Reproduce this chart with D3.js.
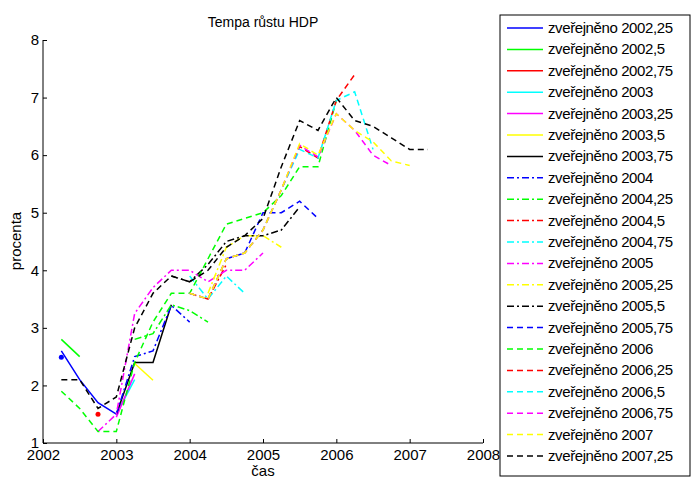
<!DOCTYPE html>
<html>
<head>
<meta charset="utf-8">
<script src="https://cdn.jsdelivr.net/npm/d3@7"></script>
<style>
  body { margin: 0; background: #fff; }
  text { font-family: "Liberation Sans", Arial, sans-serif; }
</style>
</head>
<body>
<svg id="chart" width="692" height="480"></svg>
<script>
// series: label, colour, dash style, first quarter, quarterly values
const labels = ["2002,25","2002,5","2002,75","2003","2003,25","2003,5","2003,75",
  "2004","2004,25","2004,5","2004,75","2005","2005,25","2005,5","2005,75",
  "2006","2006,25","2006,5","2006,75","2007","2007,25"];
const colors = ["#0000ff","#00ff00","#ff0000","#00ffff","#ff00ff","#ffff00","#000000"];
const starts = [2002.25,2002.25,2002.75,2003,2003,2003.25,2003,
  2003,2003.25,2004,2004,2002.75,2004.25,2003.75,2004.5,
  2002.25,2004,2004,2004,2004,2002.25];
const values = [
  [2.6,2.1,1.7,1.5],
  [2.8,2.5],
  [1.5],
  [1.5,2.1],
  [1.45,2.2],
  [2.38,2.09],
  [1.5,2.4,2.4,3.4],
  [1.5,2.5,2.6,3.39,3.1],
  [2.8,2.9,3.4,3.3,3.1],
  [3.6,3.5,4.1],
  [3.9,3.5,3.9,3.6],
  [1.2,1.5,3.25,3.7,4.0,4.0,3.8,4.0,4.0,4.3],
  [3.6,4.4,4.6,4.6,4.4],
  [3.9,3.8,4.1,4.5,4.6,4.6,4.7,5.1],
  [4.2,4.3,5.0,5.0,5.2,4.9],
  [1.9,1.6,1.2,1.2,2.4,3.1,3.6,3.6,4.2,4.8,4.9,5.0,5.3,5.8,5.8,6.95],
  [3.6,3.5,4.2,4.3,4.7,5.4,6.15,5.95,6.95,7.4],
  [3.6,3.5,4.2,4.3,4.7,5.4,6.1,5.95,6.95,7.1,6.1],
  [3.6,3.5,4.2,4.3,4.7,5.4,6.17,5.97,6.72,6.43,6.0,5.82],
  [3.6,3.5,4.2,4.3,4.7,5.4,6.2,6.0,6.72,6.43,6.23,5.9,5.82],
  [2.1,2.1,1.6,1.8,3.0,3.6,3.9,3.8,4.0,4.4,4.6,4.9,5.8,6.6,6.43,7.0,6.6,6.5,6.3,6.1,6.1]
];
const xTicks = [2002,2003,2004,2005,2006,2007,2008];
const yTicks = [1,2,3,4,5,6,7,8];

const dashes = i => i < 7 ? null : i < 14 ? "7,3,2,3" : "6,4";

const svg = d3.select("#chart");
const x = d3.scaleLinear().domain([2002, 2008]).range([43, 483]);
const y = d3.scaleLinear().domain([1, 8]).range([443, 40]);

svg.append("g").attr("transform", "translate(0,443)")
  .call(d3.axisBottom(x).tickValues(xTicks).tickFormat(d3.format("d")).tickSize(-4).tickPadding(6))
  .call(g => g.select(".domain").remove());
svg.append("g").attr("transform", "translate(43,0)")
  .call(d3.axisLeft(y).tickValues(yTicks).tickFormat(d3.format("d")).tickSize(-4).tickPadding(4))
  .call(g => g.select(".domain").remove());
svg.selectAll(".tick text").attr("font-size", 15).attr("fill", "#000");
svg.selectAll(".tick line").attr("stroke", "#000");
svg.append("path").attr("d", "M43,40V443H483").attr("fill", "none").attr("stroke", "#000");

svg.append("text").attr("x", 263).attr("y", 27).attr("text-anchor", "middle")
  .attr("font-size", 14).text("Tempa růstu HDP");
svg.append("text").attr("transform", "translate(21,241) rotate(-90)")
  .attr("text-anchor", "middle").attr("font-size", 15).text("procenta");
svg.append("text").attr("x", 263).attr("y", 476).attr("text-anchor", "middle")
  .attr("font-size", 15).text("čas");

const line = d3.line().x(d => x(d[0])).y(d => y(d[1]));
const plot = svg.append("g");
values.forEach((vals, i) => {
  const pts = vals.map((v, k) => [starts[i] + k * 0.25, v]);
  if (pts.length === 1) {
    plot.append("circle").attr("cx", x(pts[0][0])).attr("cy", y(pts[0][1]))
      .attr("r", 2.5).attr("fill", colors[i % 7]);
    return;
  }
  plot.append("path").attr("d", line(pts)).attr("fill", "none")
    .attr("stroke", colors[i % 7]).attr("stroke-width", 1.5)
    .attr("stroke-dasharray", dashes(i));
});
// dot marker of the first release
plot.append("circle").attr("cx", x(2002.25)).attr("cy", y(2.49)).attr("r", 2.5).attr("fill", colors[0]);

const leg = svg.append("g");
leg.append("rect").attr("x", 500).attr("y", 15).attr("width", 190).attr("height", 461)
  .attr("fill", "#fff").attr("stroke", "#000");
labels.forEach((l, i) => {
  const yy = 28 + i * 21.4;
  leg.append("line").attr("x1", 507).attr("x2", 543).attr("y1", yy).attr("y2", yy)
    .attr("stroke", colors[i % 7]).attr("stroke-width", 1.5).attr("stroke-dasharray", dashes(i));
  leg.append("text").attr("x", 548).attr("y", yy + 5).attr("font-size", 15)
    .attr("letter-spacing", -0.4).text("zveřejněno " + l);
});
</script>
</body>
</html>
